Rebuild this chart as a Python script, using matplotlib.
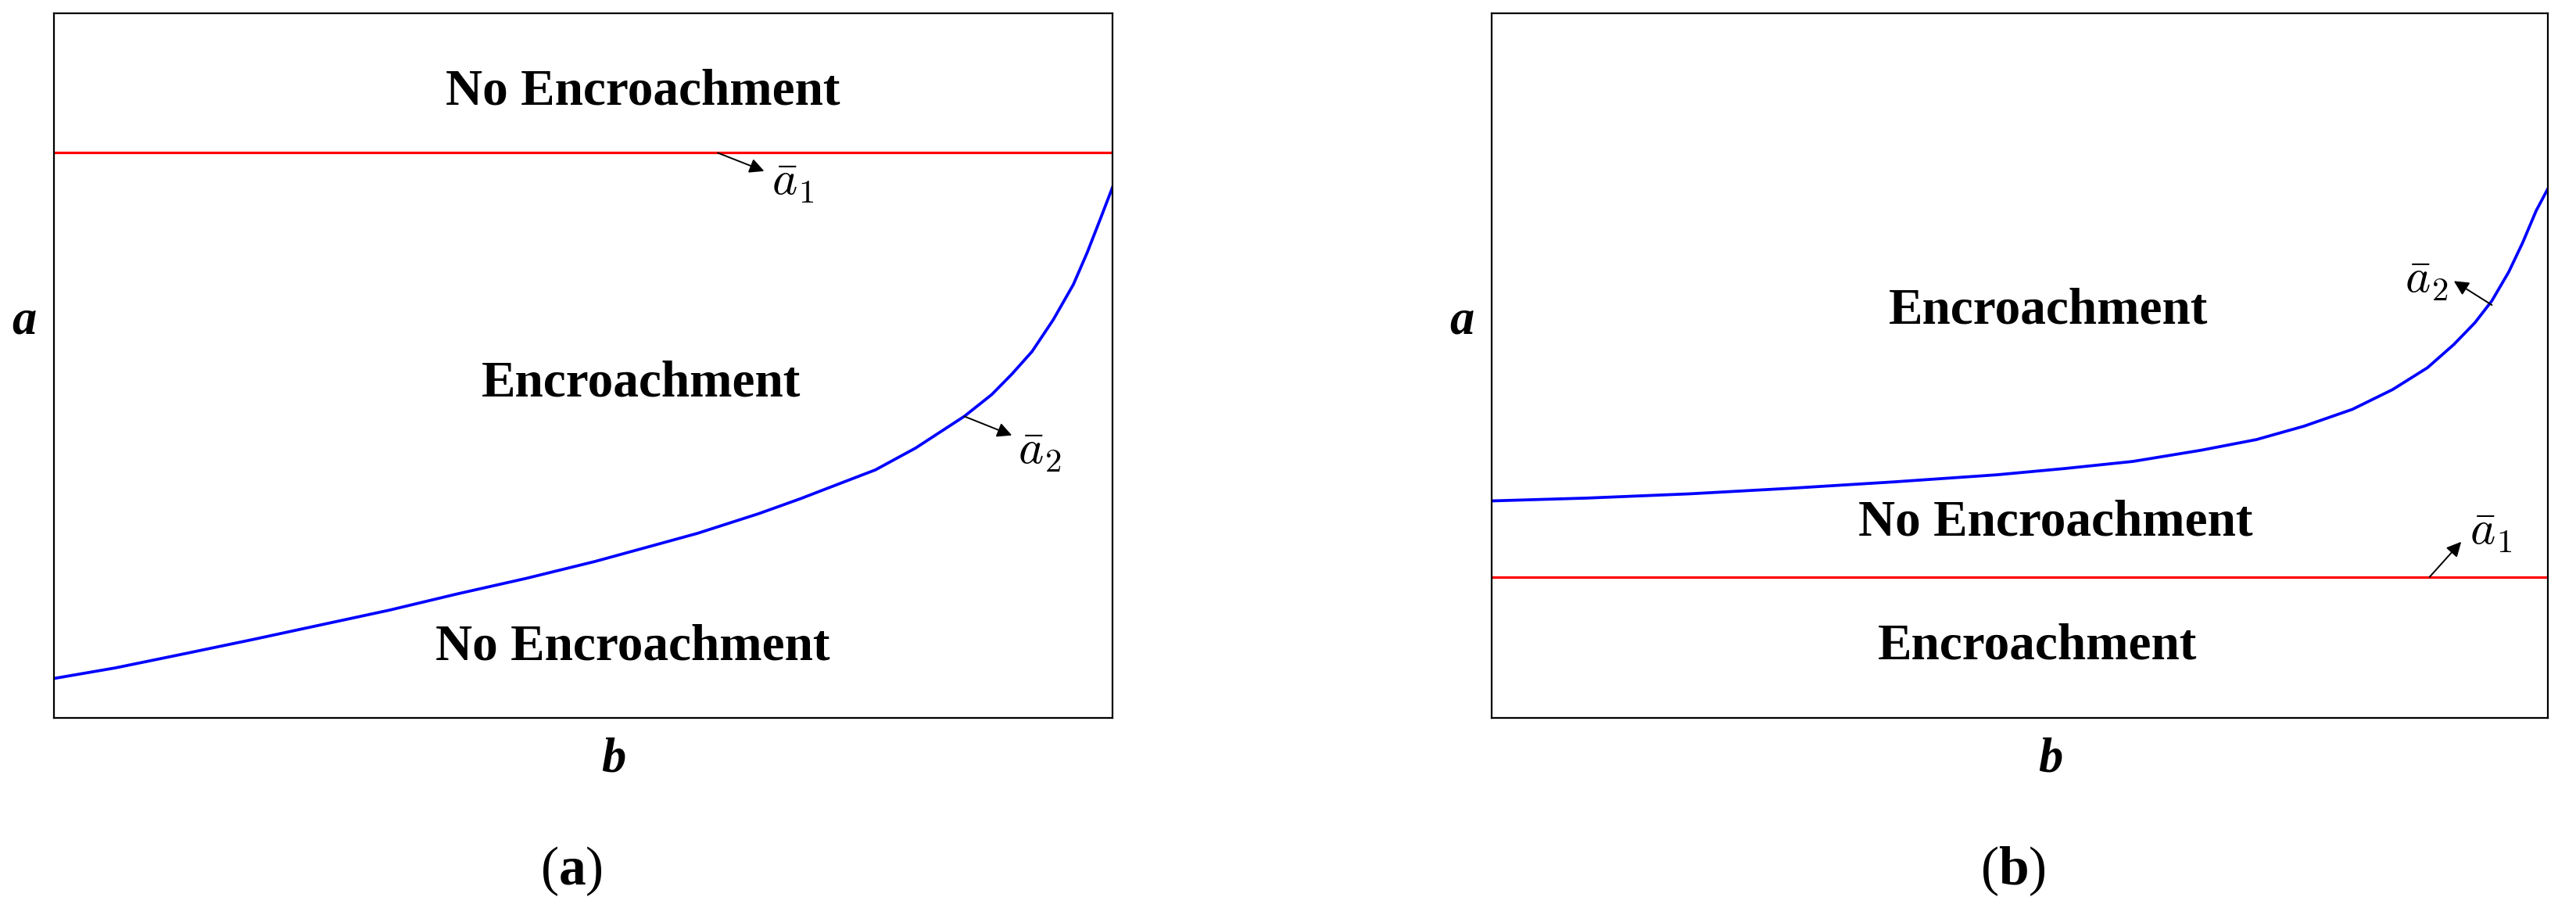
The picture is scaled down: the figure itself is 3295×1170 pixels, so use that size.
import matplotlib as mpl
mpl.use('Agg')
import matplotlib.pyplot as plt

plt.rcParams['font.family'] = ['Liberation Serif', 'DejaVu Serif']
plt.rcParams['mathtext.fontset'] = 'custom'
plt.rcParams['mathtext.rm'] = 'Liberation Serif'
plt.rcParams['mathtext.bf'] = 'Liberation Serif:bold'

# panel (a): curve a2 (b and a normalised to 0..1)
b_left = [0.0, 0.058, 0.123, 0.187, 0.252, 0.317, 0.381, 0.446, 0.511, 0.562,
          0.608, 0.666, 0.705, 0.743, 0.776, 0.814, 0.860, 0.886, 0.905, 0.924,
          0.944, 0.963, 0.976, 0.989, 1.0]
a2_left = [0.056, 0.071, 0.091, 0.111, 0.132, 0.153, 0.176, 0.198, 0.222, 0.243,
           0.262, 0.290, 0.311, 0.333, 0.352, 0.383, 0.428, 0.459, 0.488, 0.520,
           0.565, 0.615, 0.660, 0.710, 0.753]
a1_left = 0.802

# panel (b)
b_right = [0.0, 0.090, 0.187, 0.284, 0.381, 0.478, 0.543, 0.607, 0.672, 0.724,
           0.769, 0.815, 0.853, 0.886, 0.911, 0.931, 0.947, 0.963, 0.976, 0.989, 1.0]
a2_right = [0.308, 0.312, 0.318, 0.326, 0.335, 0.345, 0.354, 0.364, 0.380, 0.395,
            0.414, 0.438, 0.466, 0.497, 0.530, 0.561, 0.592, 0.633, 0.674, 0.720, 0.751]
a1_right = 0.200

# region labels (text, b, a)
regions_left = [('No Encroachment', 0.556, 0.888),
                ('Encroachment', 0.555, 0.475),
                ('No Encroachment', 0.547, 0.100)]
regions_right = [('Encroachment', 0.527, 0.578),
                 ('No Encroachment', 0.534, 0.277),
                 ('Encroachment', 0.517, 0.102)]

W, H = 3295, 1170
fig = plt.figure(figsize=(W / 100, H / 100), dpi=100)
ax1 = fig.add_axes([69 / W, 252 / H, 1354 / W, 901 / H])
ax2 = fig.add_axes([1908 / W, 252 / H, 1351 / W, 901 / H])

label_fs = 47
math_fs = 44
arrow = dict(arrowstyle='-|>', color='black', lw=1.4, mutation_scale=28,
             shrinkA=0, shrinkB=0)


def setup(ax, caption, cap_x):
    ax.set_xlim(0, 1)
    ax.set_ylim(0, 1)
    ax.set_xticks([])
    ax.set_yticks([])
    for s in ax.spines.values():
        s.set_linewidth(1.6)
    ax.text(-0.028, 0.562, 'a', transform=ax.transAxes, fontsize=45,
            fontweight='bold', fontstyle='italic', ha='center', va='center')
    ax.text(0.529, -0.059, 'b', transform=ax.transAxes, fontsize=45,
            fontweight='bold', fontstyle='italic', ha='center', va='center')
    # caption: normal parens, bold letter
    ax.text(cap_x, -0.218, r'($\mathbf{' + caption + r'}$)', transform=ax.transAxes,
            fontsize=50, ha='center', va='center')


def bar_label(ax, x, y, txt, ha):
    ax.text(x, y, txt, fontsize=math_fs, ha=ha, va='center', math_fontfamily='cm')


# left panel
setup(ax1, 'a', 0.489)
ax1.axhline(a1_left, color='red', lw=2.3)
ax1.plot(b_left, a2_left, color='blue', lw=2.7)
for txt, x, y in regions_left:
    ax1.text(x, y, txt, fontsize=label_fs, fontweight='bold', ha='center', va='center')
ax1.annotate('', xy=(0.671, 0.776), xytext=(0.627, a1_left), arrowprops=arrow)
bar_label(ax1, 0.678, 0.758, r'$\bar{a}_1$', 'left')
ax1.annotate('', xy=(0.905, 0.401), xytext=(0.860, 0.428), arrowprops=arrow)
bar_label(ax1, 0.911, 0.376, r'$\bar{a}_2$', 'left')

# right panel
setup(ax2, 'b', 0.494)
ax2.axhline(a1_right, color='red', lw=2.3)
ax2.plot(b_right, a2_right, color='blue', lw=2.7)
for txt, x, y in regions_right:
    ax2.text(x, y, txt, fontsize=label_fs, fontweight='bold', ha='center', va='center')
ax2.annotate('', xy=(0.918, 0.250), xytext=(0.888, a1_right), arrowprops=arrow)
bar_label(ax2, 0.926, 0.262, r'$\bar{a}_1$', 'left')
ax2.annotate('', xy=(0.911, 0.620), xytext=(0.947, 0.586), arrowprops=arrow)
bar_label(ax2, 0.906, 0.620, r'$\bar{a}_2$', 'right')

fig.savefig('out.png', dpi=100)
